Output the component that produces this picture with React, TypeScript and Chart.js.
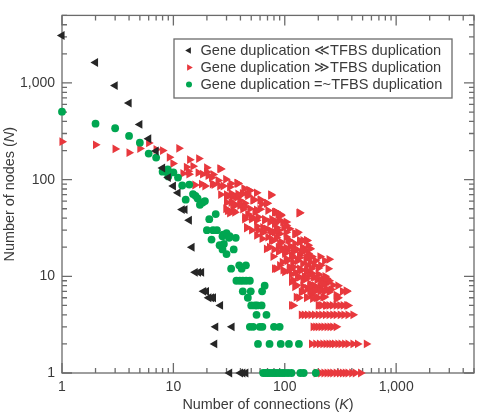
import React, { useEffect, useRef } from 'react';
import { Chart, registerables } from 'chart.js';

Chart.register(...registerables);

const FONT = '"Liberation Sans", Arial, Helvetica, sans-serif';
const TEXT_COLOR = '#3a3a3a';
const AXIS_COLOR = '#6b6b6b';

const seriesLabels = [
  'Gene duplication \u226ATFBS duplication',
  'Gene duplication \u226BTFBS duplication',
  'Gene duplication =~TFBS duplication',
];
const seriesColors = ['#262626', '#e8383d', '#00a651'];

const xTitle: [string, boolean][] = [['Number of connections (', false], ['K', true], [')', false]];
const yTitle: [string, boolean][] = [['Number of nodes (', false], ['N', true], [')', false]];

const axisMax = 5000;
const tickValues = [1, 10, 100, 1000];
const tickLabels = ['1', '10', '100', '1,000'];

// [K, N]
const blackPoints: [number, number][] = [
  [1, 3100], [2, 1630], [3, 940], [4, 620], [5, 373], [6, 265], [7, 198], [8, 132], [9, 105],
  [10, 86], [11, 73], [12, 49], [12.7, 49], [13.9, 38], [14.7, 20], [15.7, 11], [16.8, 11],
  [17.9, 11], [18.7, 7], [19.8, 7], [20.8, 6], [22, 6], [22.9, 6], [26.5, 5], [24, 3], [33.6, 3],
  [23.5, 2], [32, 1], [40, 1], [42, 1], [44.7, 1],
];

const redPoints: [number, number][] = [
  [1, 247], [2, 229], [3, 208], [4, 190], [5, 210], [6, 240], [7, 205], [8, 200], [9.2, 170],
  [9.9, 147], [11.2, 211], [13.1, 135], [14, 161], [15, 138], [16.9, 165], [12.2, 116], [13.6, 122],
  [13.8, 114], [16.7, 118], [18.3, 114], [19.9, 120], [19.9, 133], [20.5, 110], [22, 105],
  [22.7, 113], [25.2, 98], [26.1, 130], [26.6, 129], [15.6, 88], [19.2, 86], [17.9, 90], [22.4, 90],
  [23.2, 89], [26.1, 86], [28, 86], [29.5, 101], [32, 84], [32.8, 91], [37.2, 92], [38, 91],
  [26.6, 70], [30, 66], [30, 70], [33, 72], [33.7, 66], [36.3, 66], [37.6, 66], [35.5, 55],
  [41.7, 71], [43, 81], [46, 71], [46.6, 68], [47.5, 78], [48.6, 77], [30, 58], [34.3, 57],
  [39.5, 61], [43.7, 57], [52, 61], [52, 62], [55.8, 73], [60.5, 62], [62, 56], [69.5, 57],
  [75, 69], [75, 70], [29.6, 50], [31, 48], [34.3, 48], [35.6, 46], [42, 49.5], [42, 54],
  [46.6, 44], [54, 46], [60, 49.5], [70.6, 48], [83, 46.5], [84, 46], [91.5, 43.6], [92, 42.6],
  [136, 45.5], [43.7, 41], [50.4, 39], [57.6, 41], [66, 38], [76.6, 39], [84, 36.5], [88.6, 38],
  [103, 36.5], [45.5, 32], [50.4, 30], [56, 33], [63.5, 32], [73.5, 30], [84, 32], [98, 32],
  [110, 31], [56, 26.5], [62.6, 24.5], [70.6, 25.4], [78.5, 23.5], [87.6, 27.5], [90, 27.5],
  [103, 25.5], [123, 27.5], [127, 27.5], [136, 22.6], [136, 23.5], [158, 23.5], [157, 23.5],
  [144, 20], [68.5, 19.2], [78.5, 16], [84, 12], [168, 19.4], [100, 17.2], [115, 16.5], [136, 16.5],
  [162, 17.2], [207, 16], [250, 15], [96.5, 11.6], [110, 12.5], [136, 12], [157, 11.1], [176, 10.7],
  [220, 9.5], [270, 8.1], [356, 7.1], [119, 9.1], [146, 9.1], [168, 8.4], [207, 7.8], [250, 6.9],
  [290, 6.4], [123, 7.8], [141, 6.9], [173, 6.4], [199, 6], [227, 6.1], [134, 6],
  [73, 20], [80, 19], [88, 18], [95, 19.5], [105, 18.5], [112, 20.5], [120, 18], [128, 19],
  [140, 17.5], [150, 18.5], [175, 16], [188, 14.5], [228, 14.5], [118, 14], [130, 14.5], [145, 13.5],
  [160, 13], [185, 13], [200, 12.2], [105, 14.5], [115, 10.5], [125, 11], [130, 10], [150, 10],
  [165, 10.3], [180, 9.8], [195, 9.2], [210, 8.8], [185, 8], [195, 7.6], [215, 7.2], [235, 7.5],
  [260, 7.3], [160, 7.5], [180, 7], [240, 8.5], [300, 8], [330, 7], [200, 10.5], [230, 10],
  [250, 9], [155, 15], [170, 14], [210, 13], [245, 12], [95, 14], [140, 11.5], [120, 12.5],
  [37.6, 92], [38, 71], [42, 72], [53, 62], [60, 61], [68.5, 57], [33, 58], [35.6, 54], [39.5, 54],
  [43.6, 52], [48.6, 50], [55.8, 48.5], [30.6, 48], [32, 45], [81, 46], [87, 43.6], [134, 45],
  [43.7, 39], [50, 41], [55.8, 38], [66, 39], [73.5, 36.5], [81, 35], [96, 36.5], [103, 33.6],
  [45.4, 31.6], [57.6, 30], [62.5, 28.3], [68.5, 31], [76, 28.5], [87.6, 30], [103, 28.5],
  [124, 27.5], [131, 28.5], [76, 23.5], [84, 25], [93, 22.6], [107, 23.8], [123, 21.8], [146, 23.5],
  [162, 21], [87.6, 20], [103, 19.7], [119, 19.7], [150, 18.8], [168, 19.2],
  [64, 28.5], [81, 28.5], [79, 23.5], [90, 21.8], [110, 23.5], [100, 18], [119, 19.2], [146, 18.6],
  [103, 15.2], [119, 15.8], [136, 15.6], [157, 15.8], [173, 15.8], [81, 12], [90, 13], [100, 11.1],
  [110, 11.6], [157, 11.6], [173, 12], [136, 9.8], [157, 9.5], [186, 9.8], [213, 9.1], [237, 9.5],
  [115, 8.8], [127, 8.1], [146, 7.9], [168, 7.8], [193, 7.3], [220, 8.4], [360, 7],
  [127, 6.1], [157, 6.1], [178, 5.9], [220, 6.1], [290, 5.9],
  [146, 7], [168, 7], [187, 7], [207, 7], [228, 7],
  [157, 6], [192, 6], [300, 6],
  [115, 5], [119, 5], [200, 5], [207, 5], [215, 5], [232, 5], [237, 5], [250, 5], [268, 5], [290, 5],
  [312, 5], [335, 5], [360, 5], [370, 5],
  [141, 4], [150, 4], [160, 4], [172, 4], [185, 4], [200, 4], [215, 4], [232, 4], [250, 4], [270, 4],
  [290, 4], [315, 4], [340, 4], [370, 4], [410, 4],
  [180, 3], [190, 3], [200, 3], [212, 3], [225, 3], [240, 3], [255, 3], [270, 3], [290, 3],
  [174, 2], [190, 2], [205, 2], [220, 2], [235, 2], [250, 2], [265, 2], [280, 2], [300, 2], [320, 2],
  [345, 2], [370, 2], [410, 2], [450, 2], [540, 2],
  [192, 1], [210, 1], [225, 1], [240, 1], [255, 1], [270, 1], [290, 1], [310, 1], [330, 1], [350, 1],
  [370, 1], [400, 1], [430, 1], [480, 1],
];

const greenPoints: [number, number][] = [
  [1, 505], [2, 379], [3, 340], [4, 283], [5, 241], [6, 186], [7, 169], [8, 121], [8.9, 128],
  [9, 108], [10, 119], [11, 105], [12, 87], [13.9, 89], [12.9, 62], [15, 71], [15.8, 68], [16.5, 64],
  [17.3, 55], [18.3, 58], [19.2, 60], [21, 39], [24, 44], [20, 30], [22.7, 30], [24.6, 30], [22, 24],
  [27.6, 26], [28, 27], [30, 28], [31.6, 25], [32, 26], [36.3, 25], [26, 21], [28.4, 21.6],
  [27.6, 19], [34.8, 19], [30, 17], [33, 12], [39, 13], [44.8, 13], [41, 12], [36.8, 9], [39.5, 9],
  [42, 9], [45, 9], [48.6, 9], [42, 7], [49.5, 7], [46.6, 6], [62.6, 7], [66, 8], [50, 5], [54, 5],
  [56.5, 5], [62, 5], [55.8, 4], [68.5, 4], [48.6, 3], [52, 3], [59.6, 3], [63, 3], [80, 3], [90, 3],
  [57.5, 2], [73, 2], [92, 2], [109, 2], [134, 2],
  [64, 1], [67, 1], [70, 1], [73, 1], [77, 1], [81, 1], [85, 1], [90, 1], [95, 1], [100, 1],
  [107, 1], [115, 1], [138, 1], [148, 1], [190, 1],
];

function logTickPositions(max: number): number[] {
  const out: number[] = [];
  for (let e = 0; e < 6; e++) {
    for (let m = 1; m < 10; m++) {
      const v = m * Math.pow(10, e);
      if (v > max) return out;
      out.push(v);
    }
  }
  return out;
}

function labelFor(v: number): string {
  const i = tickValues.indexOf(v);
  return i >= 0 ? tickLabels[i] : '';
}

function drawMixed(ctx: CanvasRenderingContext2D, parts: [string, boolean][], cx: number, cy: number, size: number) {
  const fonts = parts.map(([, it]) => `${it ? 'italic ' : ''}${size}px ${FONT}`);
  let total = 0;
  const widths = parts.map(([t], i) => {
    ctx.font = fonts[i];
    const w = ctx.measureText(t).width;
    total += w;
    return w;
  });
  let x = cx - total / 2;
  ctx.textAlign = 'left';
  ctx.textBaseline = 'middle';
  parts.forEach(([t], i) => {
    ctx.font = fonts[i];
    ctx.fillText(t, x, cy);
    x += widths[i];
  });
}

function trianglePath(ctx: CanvasRenderingContext2D, x: number, y: number, r: number, deg: number) {
  let rad = (deg * Math.PI) / 180;
  ctx.beginPath();
  for (let k = 0; k < 3; k++) {
    const px = x + Math.sin(rad) * r;
    const py = y - Math.cos(rad) * r;
    if (k === 0) ctx.moveTo(px, py);
    else ctx.lineTo(px, py);
    rad += (2 * Math.PI) / 3;
  }
  ctx.closePath();
}

const framePlugin = {
  id: 'frameTicks',
  beforeDatasetsDraw(chart: any) {
    const { ctx, chartArea } = chart;
    const { left, right, top, bottom } = chartArea;
    const xs = chart.scales.x;
    const ys = chart.scales.y;
    ctx.save();
    ctx.strokeStyle = AXIS_COLOR;
    ctx.lineWidth = 1.3;
    ctx.strokeRect(left, top, right - left, bottom - top);
    ctx.beginPath();
    for (const t of xs.ticks) {
      const px = xs.getPixelForValue(t.value);
      const len = tickValues.includes(t.value) ? 10 : 5;
      ctx.moveTo(px, bottom);
      ctx.lineTo(px, bottom - len);
      ctx.moveTo(px, top);
      ctx.lineTo(px, top + len);
    }
    for (const t of ys.ticks) {
      const py = ys.getPixelForValue(t.value);
      const len = tickValues.includes(t.value) ? 10 : 5;
      ctx.moveTo(left, py);
      ctx.lineTo(left + len, py);
      ctx.moveTo(right, py);
      ctx.lineTo(right - len, py);
    }
    ctx.stroke();
    ctx.restore();
  },
  afterDraw(chart: any) {
    const { ctx, chartArea } = chart;
    const { left, right, top, bottom } = chartArea;
    ctx.save();
    ctx.fillStyle = TEXT_COLOR;
    drawMixed(ctx, xTitle, (left + right) / 2, 405, 14.4);
    ctx.translate(10, (top + bottom) / 2);
    ctx.rotate(-Math.PI / 2);
    drawMixed(ctx, yTitle, 0, 0, 14.4);
    ctx.restore();

    // legend
    ctx.save();
    const bx = 174, by = 39, bw = 278, bh = 59;
    ctx.fillStyle = '#ffffff';
    ctx.fillRect(bx, by, bw, bh);
    ctx.strokeStyle = AXIS_COLOR;
    ctx.lineWidth = 1.3;
    ctx.strokeRect(bx, by, bw, bh);
    const rowsY = [50.5, 67.5, 84.5];
    chart.data.datasets.forEach((ds: any, i: number) => {
      const y = rowsY[i];
      ctx.fillStyle = ds.backgroundColor;
      if (ds.pointStyle === 'circle') {
        ctx.beginPath();
        ctx.arc(189, y, 3, 0, Math.PI * 2);
        ctx.fill();
      } else {
        trianglePath(ctx, 189, y, 3.8, ds.pointRotation);
        ctx.fill();
      }
      ctx.fillStyle = TEXT_COLOR;
      ctx.font = `14.6px ${FONT}`;
      ctx.textAlign = 'left';
      ctx.textBaseline = 'middle';
      ctx.fillText(ds.label, 200.5, y);
    });
    ctx.restore();
  },
};

function makeScale(isX: boolean) {
  return {
    type: 'logarithmic' as const,
    position: isX ? ('bottom' as const) : ('left' as const),
    min: 1,
    max: axisMax,
    grid: { display: false, drawTicks: false },
    border: { display: false },
    afterBuildTicks: (scale: any) => {
      scale.ticks = logTickPositions(axisMax).map((v) => ({ value: v }));
    },
    afterFit: (scale: any) => {
      if (isX) scale.height = 42;
      else scale.width = 62;
    },
    ticks: {
      autoSkip: false,
      maxRotation: 0,
      minRotation: 0,
      padding: isX ? 6 : 7,
      color: TEXT_COLOR,
      font: { family: FONT, size: 14 },
      callback: (v: any) => labelFor(Number(v)),
    },
  };
}

export default function App() {
  const ref = useRef<HTMLCanvasElement | null>(null);
  useEffect(() => {
    document.body.style.margin = '0';
    if (!ref.current) return;
    const toXY = (pts: [number, number][]) => pts.map(([x, y]) => ({ x, y }));
    const chart = new Chart(ref.current, {
      type: 'scatter',
      data: {
        datasets: [
          {
            label: seriesLabels[0],
            data: toXY(blackPoints),
            backgroundColor: seriesColors[0],
            pointStyle: 'triangle',
            pointRotation: -90,
            pointRadius: 5.1,
            borderWidth: 0,
            clip: false,
            order: 0,
          } as any,
          {
            label: seriesLabels[1],
            data: toXY(redPoints),
            backgroundColor: seriesColors[1],
            pointStyle: 'triangle',
            pointRotation: 90,
            pointRadius: 5.1,
            borderWidth: 0,
            clip: false,
            order: 2,
          },
          {
            label: seriesLabels[2],
            data: toXY(greenPoints),
            backgroundColor: seriesColors[2],
            pointStyle: 'circle',
            pointRotation: 0,
            pointRadius: 3.9,
            borderWidth: 0,
            clip: false,
            order: 1,
          },
        ],
      },
      options: {
        responsive: false,
        animation: false,
        events: [],
        layout: { padding: { top: 13, right: 8, left: 0, bottom: 0 } },
        plugins: {
          legend: { display: false },
          tooltip: { enabled: false },
        },
        scales: {
          x: makeScale(true),
          y: makeScale(false),
        },
      } as any,
      plugins: [framePlugin],
    });
    return () => chart.destroy();
  }, []);
  return (
    <div style={{ width: 482, height: 415, background: '#fff' }}>
      <canvas ref={ref} width={482} height={415} style={{ display: 'block' }} />
    </div>
  );
}
